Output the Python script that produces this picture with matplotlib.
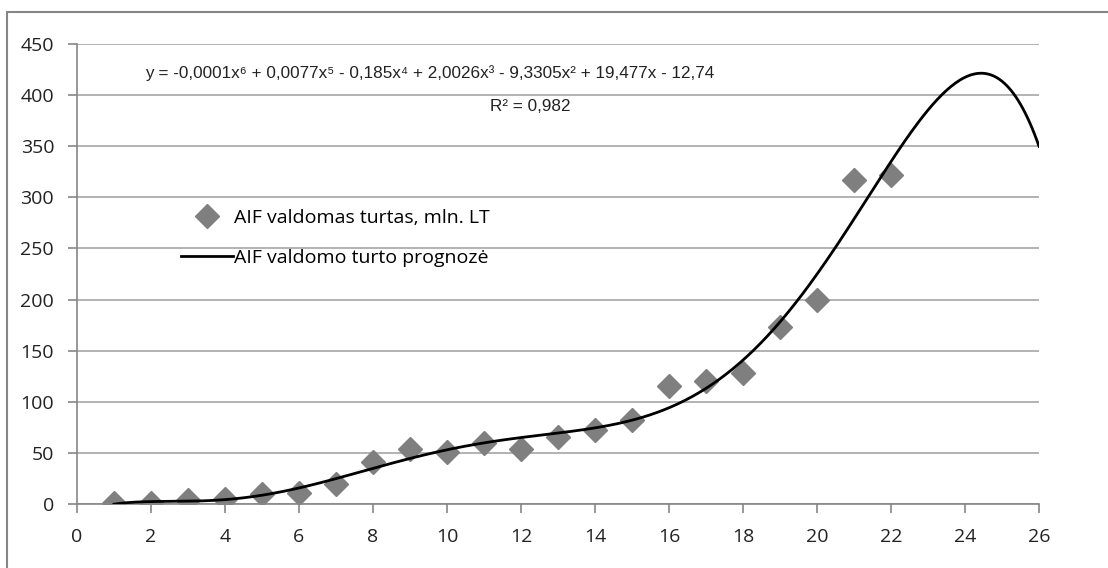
import numpy as np
import matplotlib.pyplot as plt
from matplotlib.patches import Rectangle

# AIF managed assets, mln. LT
years = [1, 2, 3, 4, 5, 6, 7, 8, 9, 10, 11, 12, 13, 14, 15, 16, 17, 18, 19, 20, 21, 22]
assets = [0.5, 0.5, 4, 5, 10, 11, 20, 41, 54, 51, 60, 54, 66, 72, 82, 115, 120, 128, 173, 200, 317, 322]

eq_text = 'y = -0,0001x⁶ + 0,0077x⁵ - 0,185x⁴ + 2,0026x³ - 9,3305x² + 19,477x - 12,74'
r2_text = 'R² = 0,982'

plt.rcParams['font.family'] = ['Open Sans', 'DejaVu Sans']

fig = plt.figure(figsize=(11.08, 5.68), dpi=100)
ax = fig.add_axes([77 / 1108, 1 - 504 / 568, (1039 - 77) / 1108, (504 - 44) / 568])

# outer chart frame (Excel chart area)
fig.patches.append(Rectangle((7 / 1108, -0.05), 1.2, 1 - 12 / 568 + 0.05,
                             transform=fig.transFigure, fill=False,
                             edgecolor='#868686', linewidth=1.5))

# 6th order polynomial trendline, same as Excel's
coef = np.polyfit(years, assets, 6)
xs = np.linspace(1, 26, 400)
ax.plot(xs, np.polyval(coef, xs), color='black', linewidth=2.0, zorder=3,
        label='AIF valdomo turto prognozė')
ax.plot(years, assets, linestyle='none', marker='D', markersize=12.5,
        color='#7f7f7f', zorder=2, label='AIF valdomas turtas, mln. LT')

ax.set_xlim(0, 26)
ax.set_ylim(0, 450)
ax.set_xticks(range(0, 27, 2))
ax.set_yticks(range(0, 451, 50))
ax.grid(axis='y', color='#a6a6a6', linewidth=1.2)
ax.set_axisbelow(True)
for s in ['top', 'right']:
    ax.spines[s].set_visible(False)
for s in ['left', 'bottom']:
    ax.spines[s].set_color('#868686')
    ax.spines[s].set_linewidth(1.2)
ax.tick_params(colors='#868686', labelcolor='#222222', labelsize=14, length=6.5, width=1.2)
ax.tick_params(axis='x', pad=11)
ax.tick_params(axis='y', pad=10)

handles, labels = ax.get_legend_handles_labels()
ax.legend(handles[::-1], labels[::-1], loc='center left', bbox_to_anchor=(0.108, 0.578),
          frameon=False, fontsize=14, handlelength=2.7, handletextpad=0.05,
          labelspacing=1.15, borderpad=0, borderaxespad=0)

ax.text(0.367, 0.937, eq_text, transform=ax.transAxes, ha='center', va='center',
        fontsize=12.3, family=['Liberation Sans', 'DejaVu Sans'], color='#222222')
ax.text(0.471, 0.865, r2_text, transform=ax.transAxes, ha='center', va='center',
        fontsize=12.3, family=['Liberation Sans', 'DejaVu Sans'], color='#222222')

fig.savefig('out.png', dpi=100)
